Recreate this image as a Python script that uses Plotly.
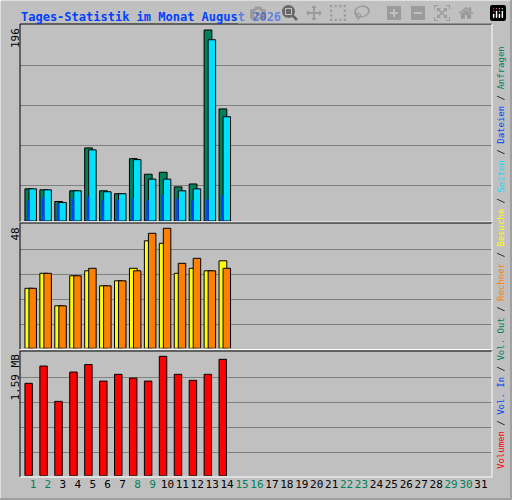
import plotly.graph_objects as go

# Daily values, August 2026 (days 1-14 have data)
days = list(range(1, 15))
hits = [33, 32, 20, 31, 75, 31, 28, 64, 48, 50, 35, 38, 196, 115]
files = [33, 32, 19, 31, 73, 30, 28, 63, 43, 43, 31, 33, 186, 107]
pages = [21, 24, 17, 23, 25, 21, 22, 23, 21, 27, 23, 21, 22, 26]
visits = [24, 30, 17, 29, 31, 25, 27, 32, 43, 42, 30, 32, 31, 35]
sites = [24, 30, 17, 29, 32, 25, 27, 31, 46, 48, 34, 36, 31, 32]
volume_mb = [1.23, 1.46, 0.99, 1.38, 1.48, 1.26, 1.35, 1.30, 1.26, 1.59, 1.35, 1.27, 1.35, 1.55]
weekend = [1, 2, 8, 9, 15, 16, 22, 23, 29, 30]

W, H = 512, 500
BG = "#C0C0C0"


def dom(top, bottom):
    return [1 - bottom / H, 1 - top / H]


def bars(x, y, color, offset, width, yaxis):
    return go.Bar(x=x, y=y, offset=offset, width=width, yaxis=yaxis, xaxis="x",
                  marker=dict(color=color, line=dict(color="black", width=1)),
                  hoverinfo="skip")


fig = go.Figure()
fig.add_trace(bars(days, hits, "#00805C", -0.54, 0.52, "y"))
fig.add_trace(bars(days, files, "#00E0FF", -0.27, 0.5, "y"))
fig.add_trace(go.Bar(x=days, y=pages, offset=-0.4, width=0.16, yaxis="y", xaxis="x",
                     marker=dict(color="#0040FF", line=dict(width=0)), hoverinfo="skip"))
fig.add_trace(bars(days, visits, "#FFFF00", -0.54, 0.52, "y2"))
fig.add_trace(bars(days, sites, "#FF8000", -0.27, 0.5, "y2"))
fig.add_trace(bars(days, volume_mb, "#FF0000", -0.54, 0.5, "y3"))

ticktext = []
for d in range(1, 32):
    c = "#00805C" if d in weekend else "black"
    ticktext.append(f"<span style='color:{c}'>{d}</span>")

grid = dict(showticklabels=False, showgrid=True, gridcolor="#808080", gridwidth=1,
            zeroline=False, showline=False, ticks="")
s1 = 196 / 191
s2 = 48 / 120
s3 = 1.59 / 119.4
fig.update_layout(
    width=W, height=H, margin=dict(l=0, r=0, t=0, b=0),
    paper_bgcolor=BG, plot_bgcolor=BG, barmode="overlay", showlegend=False,
    xaxis=dict(domain=[20 / W, 492 / W], range=[0.13, 31.74], tickmode="array",
               tickvals=list(range(1, 32)), ticktext=ticktext, anchor="y3",
               tickangle=0, ticklen=0, showgrid=False, zeroline=False, ticks="",
               showline=False, tickfont=dict(family="DejaVu Sans Mono", size=11)),
    yaxis=dict(domain=dom(25, 221), range=[0, 196 * s1], anchor="x",
               tickvals=[36 * s1, 76 * s1, 116 * s1, 156 * s1], **grid),
    yaxis2=dict(domain=dom(224, 348.3), range=[0, 124.3 * s2], anchor="x",
                tickvals=[24 * s2, 49 * s2, 74 * s2, 99 * s2], **grid),
    yaxis3=dict(domain=dom(352, 475.7), range=[0, 123.7 * s3], anchor="x",
                tickvals=[23.4 * s3, 48.4 * s3, 73.4 * s3, 98.4 * s3], **grid),
)

# panel frames
lines = []
for top, bot in [(24, 222), (223, 349.5), (351, 477)]:
    lines.append((20, top, 492, top, "black"))
    lines.append((20, top, 20, bot, "black"))
    lines.append((20, bot, 492, bot, "white"))
    lines.append((492, top, 492, bot, "white"))
lines += [(0, 0, 511, 0, "white"), (0, 0, 0, 499, "white"),
          (0, 499, 511, 499, "#808080"), (511, 0, 511, 499, "#808080")]
for x0, y0, x1, y1, c in lines:
    fig.add_shape(type="line", xref="paper", yref="paper", x0=x0 / W, x1=x1 / W,
                  y0=1 - y0 / H, y1=1 - y1 / H, line=dict(color=c, width=1))

mono = "DejaVu Sans Mono"
fig.add_annotation(text="<b>Tages-Statistik im Monat August 2026</b>", xref="paper", yref="paper",
                   x=19 / W, y=1 - 8 / H, xanchor="left", yanchor="top", showarrow=False,
                   font=dict(family=mono, size=12, color="#0040FF"))
for label, ytop in [("196", 26), ("48", 226), ("1.59 MB", 352)]:
    fig.add_annotation(text=label, textangle=-90, xref="paper", yref="paper",
                       x=15 / W, y=1 - ytop / H, xanchor="center", yanchor="top",
                       showarrow=False, font=dict(family=mono, size=11, color="black"))

legend = [("Volumen", "#FF0000"), ("Vol. In", "#0040FF"), ("Vol. Out", "#00805C"),
          ("Rechner", "#FF8000"), ("Besuche", "#FFFF00"), ("Seiten", "#00E0FF"),
          ("Dateien", "#0040FF"), ("Anfragen", "#00805C")]
legend_text = " / ".join(f"<span style='color:{c}'>{t}</span>" for t, c in legend)
fig.add_annotation(text=legend_text, textangle=-90, xref="paper", yref="paper",
                   x=501 / W, y=1 - 258 / H, xanchor="center", yanchor="middle",
                   showarrow=False, font=dict(family=mono, size=9, color="black"))

fig.write_html("out.html", post_script="document.body.style.margin='0';")
